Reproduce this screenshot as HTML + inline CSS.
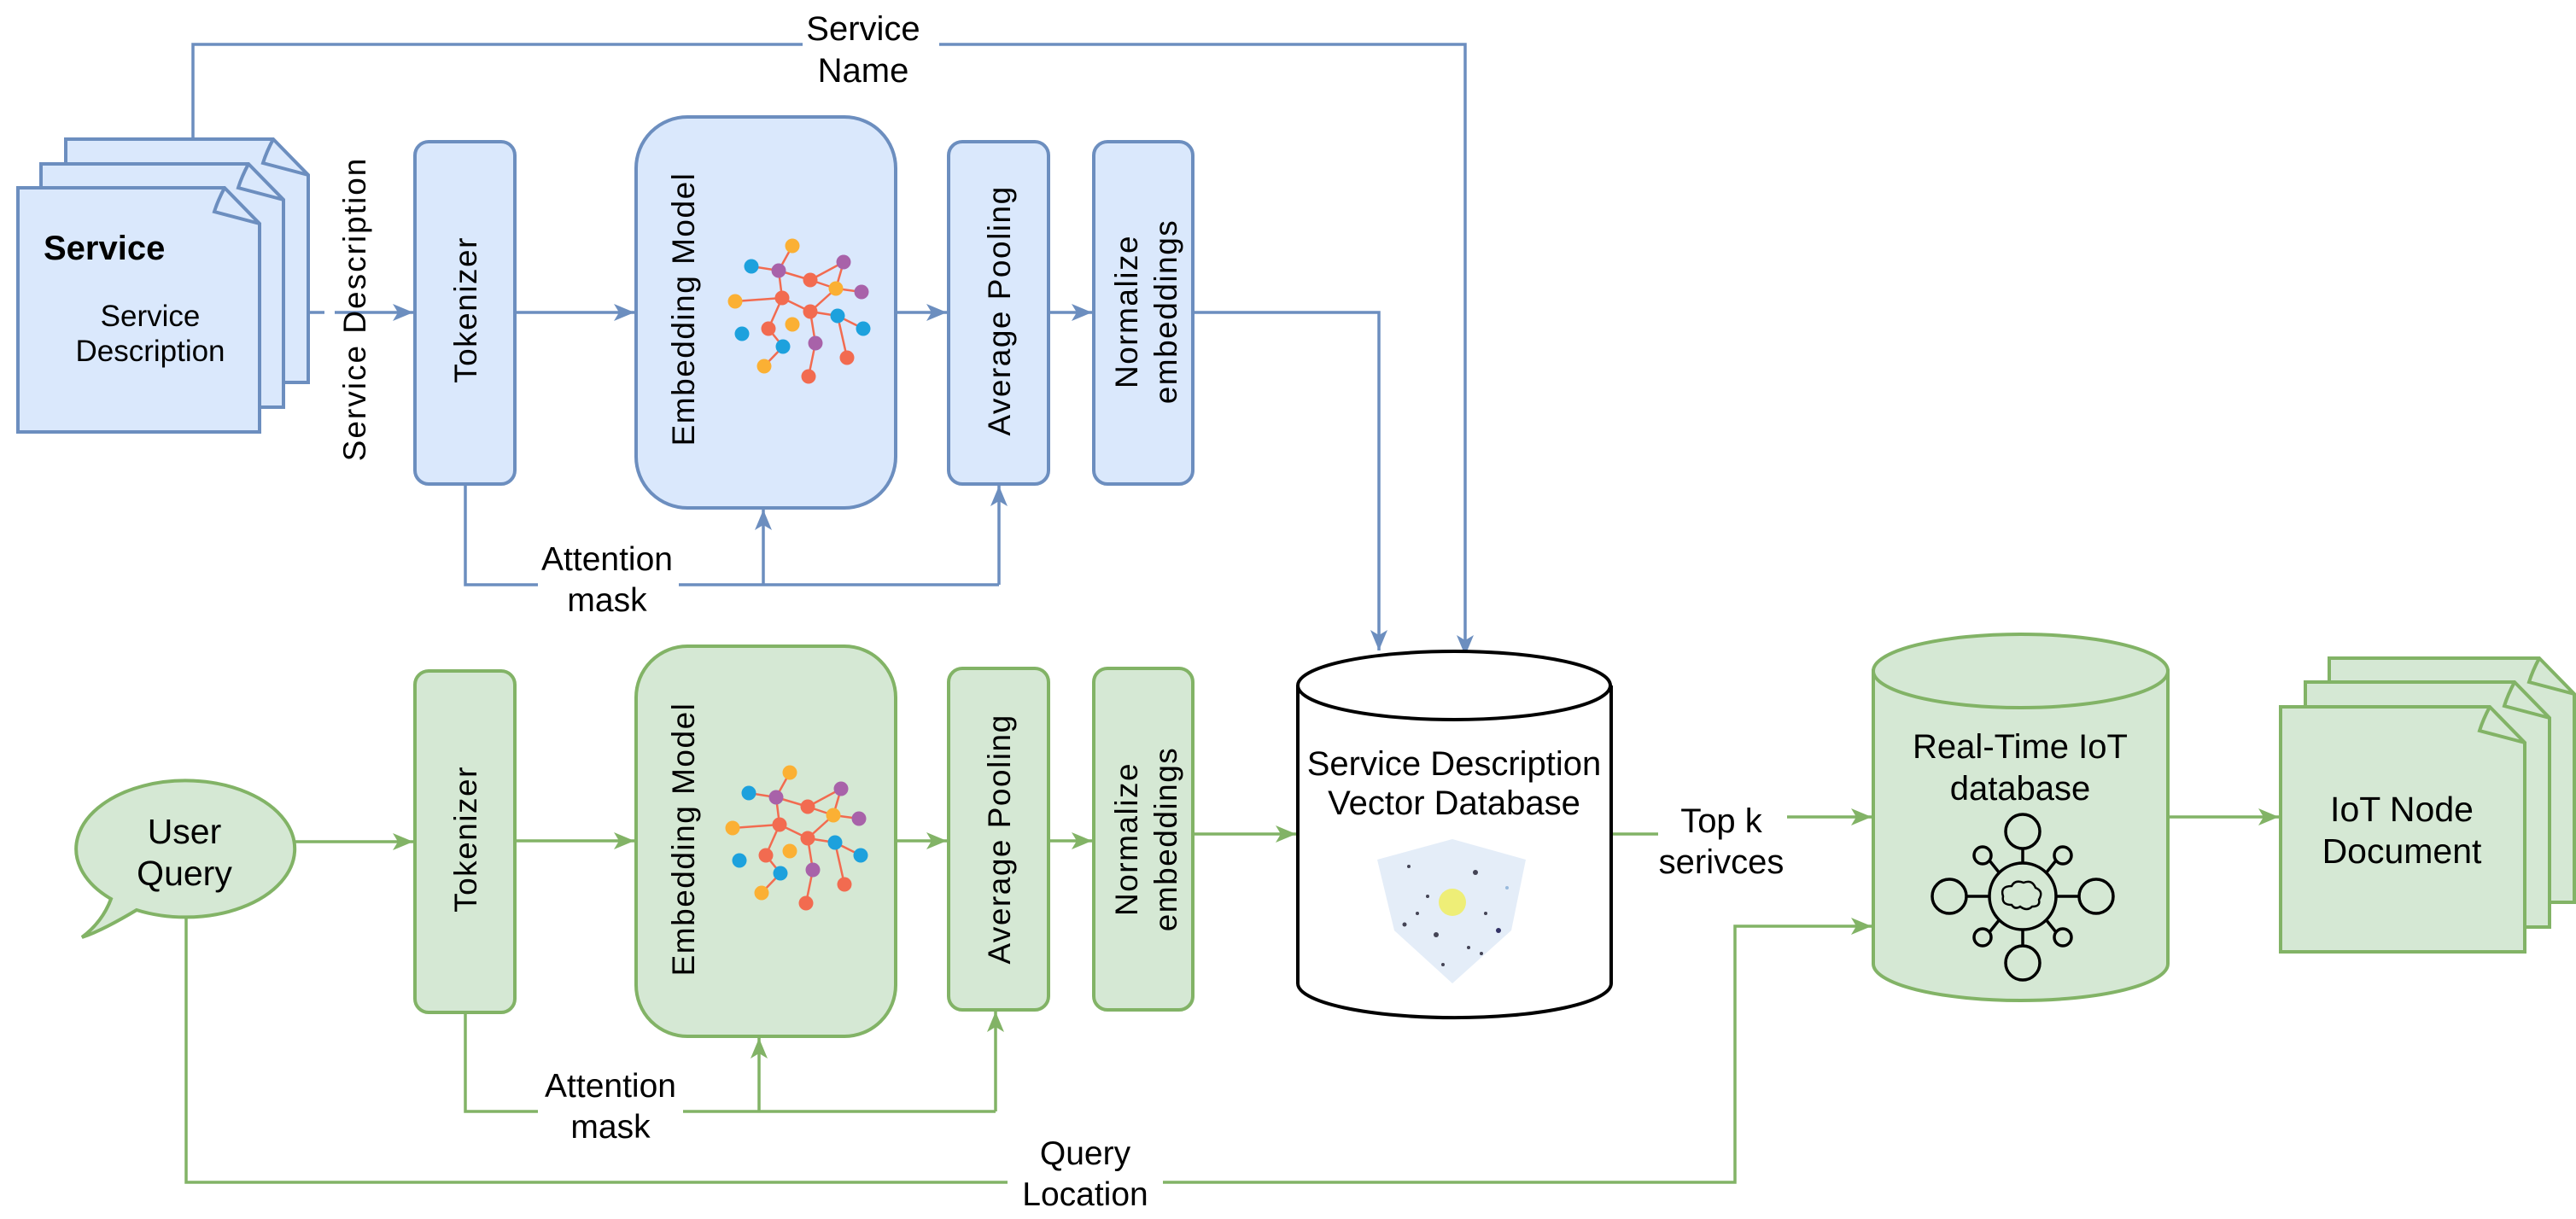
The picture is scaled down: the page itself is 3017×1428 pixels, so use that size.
<!DOCTYPE html>
<html><head><meta charset="utf-8"><style>html,body{margin:0;padding:0;background:#fff}svg{display:block}text{font-family:"Liberation Sans",sans-serif;fill:#000}</style></head><body>
<svg width="3017" height="1428" viewBox="0 0 3017 1428" xmlns="http://www.w3.org/2000/svg">
<defs>
<marker id="ab" markerUnits="userSpaceOnUse" markerWidth="26" markerHeight="22" refX="24" refY="10" orient="auto"><path d="M0,0 L24,10 L0,20 L6,10 Z" fill="#6c8ebf"/></marker>
<marker id="ag" markerUnits="userSpaceOnUse" markerWidth="26" markerHeight="22" refX="24" refY="10" orient="auto"><path d="M0,0 L24,10 L0,20 L6,10 Z" fill="#82b366"/></marker>
<g id="net">
<g stroke="#f26b50" stroke-width="2.5" fill="none">
<path d="M880,312 L912,317 L928,288 M912,317 L949,328 L988,307 L979,338 L1009,342 M949,328 L979,338 M912,317 L916,349 L861,353 M916,349 L949,365 L979,338 M949,365 L981,370 L1011,385 M981,370 L992,419 M916,349 L900,385 L917,406 L895,429 M949,365 L955,402 L947,441"/>
</g>
<g>
<circle cx="928" cy="288" r="8.5" fill="#fbb034"/><circle cx="880" cy="312" r="8.5" fill="#1da1dd"/><circle cx="912" cy="317" r="8.5" fill="#a862a9"/><circle cx="988" cy="307" r="8.5" fill="#a862a9"/><circle cx="949" cy="328" r="8.5" fill="#f26b50"/><circle cx="979" cy="338" r="8.5" fill="#fbb034"/><circle cx="1009" cy="342" r="8.5" fill="#a862a9"/><circle cx="861" cy="353" r="8.5" fill="#fbb034"/><circle cx="916" cy="349" r="8.5" fill="#f26b50"/><circle cx="949" cy="365" r="8.5" fill="#f26b50"/><circle cx="981" cy="370" r="8.5" fill="#1da1dd"/><circle cx="1011" cy="385" r="8.5" fill="#1da1dd"/><circle cx="928" cy="380" r="8.5" fill="#fbb034"/><circle cx="900" cy="385" r="8.5" fill="#f26b50"/><circle cx="869" cy="391" r="8.5" fill="#1da1dd"/><circle cx="917" cy="406" r="8.5" fill="#1da1dd"/><circle cx="955" cy="402" r="8.5" fill="#a862a9"/><circle cx="992" cy="419" r="8.5" fill="#f26b50"/><circle cx="895" cy="429" r="8.5" fill="#fbb034"/><circle cx="947" cy="441" r="8.5" fill="#f26b50"/>
</g>
</g>
</defs>

<!-- ===== BLUE ROW ===== -->
<g fill="none" stroke="#6c8ebf" stroke-width="3.5">
<path d="M226,163 L226,52 L940,52 M1100,52 L1716,52 L1716,768" marker-end="url(#ab)"/>
<path d="M361,366 L380,366 M392,366 L484,366" marker-end="url(#ab)"/>
<path d="M603,366 L743,366" marker-end="url(#ab)"/>
<path d="M1049,366 L1109,366" marker-end="url(#ab)"/>
<path d="M1228,366 L1279,366" marker-end="url(#ab)"/>
<path d="M1397,366 L1615,366 L1615,762" marker-end="url(#ab)"/>
<path d="M545,567 L545,685 L630,685 M795,685 L1170,685"/>
<path d="M894,685 L894,597" marker-end="url(#ab)"/>
<path d="M1170,685 L1170,569" marker-end="url(#ab)"/>
</g>
<rect x="940" y="15" width="160" height="80" fill="#fff"/>
<text x="1011" y="47" font-size="40" text-anchor="middle">Service</text>
<text x="1011" y="96" font-size="40" text-anchor="middle">Name</text>

<!-- doc stack blue -->
<g fill="#dae8fc" stroke="#6c8ebf" stroke-width="4">
<path d="M77,163 L320,163 L361,205 L361,448 L77,448 Z"/><path d="M320,163 Q312,178 308,191 L361,205" fill="none"/>
<path d="M48,192 L291,192 L332,234 L332,477 L48,477 Z"/><path d="M291,192 Q283,207 279,220 L332,234" fill="none"/>
<path d="M21,220 L263,220 L304,262 L304,506 L21,506 Z"/><path d="M263,220 Q255,235 251,248 L304,262" fill="none"/>
</g>
<text x="51" y="304" font-size="40" font-weight="bold">Service</text>
<text x="176" y="382" font-size="35" text-anchor="middle">Service</text>
<text x="176" y="423" font-size="35" text-anchor="middle">Description</text>
<text transform="translate(428,362) rotate(-90)" font-size="37" text-anchor="middle" letter-spacing="2">Service Description</text>

<g fill="#dae8fc" stroke="#6c8ebf" stroke-width="4">
<rect x="486" y="166" width="117" height="401" rx="16"/>
<rect x="745" y="137" width="304" height="458" rx="60"/>
<rect x="1111" y="166" width="117" height="401" rx="16"/>
<rect x="1281" y="166" width="116" height="401" rx="16"/>
</g>
<g font-size="37" text-anchor="middle" letter-spacing="1.5">
<text transform="translate(558,363) rotate(-90)">Tokenizer</text>
<text transform="translate(813,362) rotate(-90)">Embedding Model</text>
<text transform="translate(1183,364) rotate(-90)">Average Pooling</text>
<text transform="translate(1332,365) rotate(-90)">Normalize</text>
<text transform="translate(1378,365) rotate(-90)">embeddings</text>
</g>
<use href="#net"/>
<rect x="630" y="645" width="165" height="80" fill="#fff"/>
<text x="711" y="668" font-size="39" text-anchor="middle">Attention</text>
<text x="711" y="716" font-size="39" text-anchor="middle">mask</text>

<!-- ===== GREEN ROW ===== -->
<g fill="none" stroke="#82b366" stroke-width="3.5">
<path d="M345,986 L484,986" marker-end="url(#ag)"/>
<path d="M603,985 L743,985" marker-end="url(#ag)"/>
<path d="M1049,985 L1109,985" marker-end="url(#ag)"/>
<path d="M1228,985 L1279,985" marker-end="url(#ag)"/>
<path d="M1397,977 L1518,977" marker-end="url(#ag)"/>
<path d="M545,1186 L545,1302 L630,1302 M800,1302 L1166,1302"/>
<path d="M889,1302 L889,1216" marker-end="url(#ag)"/>
<path d="M1166,1302 L1166,1185" marker-end="url(#ag)"/>
<path d="M218,1066 L218,1385 L1180,1385 M1362,1385 L2032,1385 L2032,1085 L2192,1085" marker-end="url(#ag)"/>
<path d="M2093,957 L2192,957" marker-end="url(#ag)"/>
<path d="M2539,957 L2669,957" marker-end="url(#ag)"/>
</g>
<path d="M1887,977 L1942,977" stroke="#82b366" stroke-width="3.5"/>
<!-- bubble -->
<path d="M130,1053 A128,80 0 1 1 160,1066 Q120,1090 96,1098 Q120,1080 130,1053 Z" fill="#d5e8d4" stroke="#82b366" stroke-width="4"/>
<text x="216" y="988" font-size="41" text-anchor="middle">User</text>
<text x="216" y="1037" font-size="41" text-anchor="middle">Query</text>

<g fill="#d5e8d4" stroke="#82b366" stroke-width="4">
<rect x="486" y="786" width="117" height="400" rx="16"/>
<rect x="745" y="757" width="304" height="457" rx="60"/>
<rect x="1111" y="783" width="117" height="400" rx="16"/>
<rect x="1281" y="783" width="116" height="400" rx="16"/>
</g>
<g font-size="37" text-anchor="middle" letter-spacing="1.5">
<text transform="translate(558,983) rotate(-90)">Tokenizer</text>
<text transform="translate(813,983) rotate(-90)">Embedding Model</text>
<text transform="translate(1183,983) rotate(-90)">Average Pooling</text>
<text transform="translate(1332,983) rotate(-90)">Normalize</text>
<text transform="translate(1378,983) rotate(-90)">embeddings</text>
</g>
<use href="#net" transform="translate(-3,617)"/>
<rect x="630" y="1262" width="170" height="80" fill="#fff"/>
<text x="715" y="1285" font-size="39" text-anchor="middle">Attention</text>
<text x="715" y="1333" font-size="39" text-anchor="middle">mask</text>
<rect x="1180" y="1335" width="182" height="90" fill="#fff"/>
<text x="1271" y="1364" font-size="39" text-anchor="middle">Query</text>
<text x="1271" y="1412" font-size="39" text-anchor="middle">Location</text>

<!-- Vector DB -->
<path d="M1520,803 L1520,1152 A183,40 0 0 0 1887,1152 L1887,803" fill="#fff" stroke="#000" stroke-width="4"/>
<ellipse cx="1703" cy="803" rx="183" ry="40" fill="#fff" stroke="#000" stroke-width="4"/>
<text x="1703" y="908" font-size="40" text-anchor="middle">Service Description</text>
<text x="1703" y="954" font-size="40" text-anchor="middle">Vector Database</text>
<polygon points="1613,1007 1701,983 1787,1007 1770,1090 1701,1152 1633,1090" fill="#e4edf8"/>
<circle cx="1701" cy="1057" r="16" fill="#eeee77"/>
<g fill="#445">
<circle cx="1650" cy="1015" r="2"/><circle cx="1728" cy="1022" r="3"/><circle cx="1672" cy="1050" r="2"/><circle cx="1740" cy="1070" r="2"/><circle cx="1645" cy="1083" r="2.5"/><circle cx="1682" cy="1095" r="3"/><circle cx="1755" cy="1090" r="3" fill="#336"/><circle cx="1720" cy="1110" r="2"/><circle cx="1690" cy="1130" r="2"/><circle cx="1735" cy="1117" r="2"/><circle cx="1660" cy="1070" r="2"/><circle cx="1765" cy="1040" r="2" fill="#9bd"/>
</g>
<text x="2016" y="975" font-size="40" text-anchor="middle">Top k</text>
<text x="2016" y="1023" font-size="40" text-anchor="middle">serivces</text>

<!-- IoT DB -->
<path d="M2194,786 L2539,786 L2539,1129 A172.5,43 0 0 1 2194,1129 Z" fill="#d5e8d4" stroke="#82b366" stroke-width="4"/>
<ellipse cx="2366.5" cy="786" rx="172.5" ry="43" fill="#d5e8d4" stroke="#82b366" stroke-width="4"/>
<text x="2366" y="888" font-size="40" text-anchor="middle">Real-Time IoT</text>
<text x="2366" y="937" font-size="40" text-anchor="middle">database</text>
<g fill="none" stroke="#000" stroke-width="3.5">
<circle cx="2369" cy="1050" r="39"/>
<path d="M2369,1011 L2369,994 M2369,1089 L2369,1108 M2330,1050 L2303,1050 M2408,1050 L2434,1050 M2342,1023 L2330,1008 M2396,1023 L2408,1008 M2342,1077 L2330,1092 M2396,1077 L2408,1092"/>
<circle cx="2369" cy="974" r="20"/><circle cx="2369" cy="1128" r="20"/><circle cx="2283" cy="1050" r="20"/><circle cx="2455" cy="1050" r="20"/>
<circle cx="2322" cy="1002" r="10"/><circle cx="2416" cy="1002" r="10"/><circle cx="2322" cy="1098" r="10"/><circle cx="2416" cy="1098" r="10"/>
<path d="M2356,1060 q-12,0 -10,-10 q-4,-12 10,-12 q4,-8 14,-4 q10,-4 14,6 q10,4 4,14 q2,8 -8,8 q-6,6 -14,0 q-6,4 -10,-2 z" stroke-width="2.5"/>
</g>

<!-- IoT doc stack -->
<g fill="#d5e8d4" stroke="#82b366" stroke-width="4">
<path d="M2728,771 L2974,771 L3015,813 L3015,1057 L2728,1057 Z"/><path d="M2974,771 Q2966,786 2962,799 L3015,813" fill="none"/>
<path d="M2700,799 L2945,799 L2986,841 L2986,1086 L2700,1086 Z"/><path d="M2945,799 Q2937,814 2933,827 L2986,841" fill="none"/>
<path d="M2671,828 L2916,828 L2957,870 L2957,1115 L2671,1115 Z"/><path d="M2916,828 Q2908,843 2904,856 L2957,870" fill="none"/>
</g>
<text x="2813" y="962" font-size="41" text-anchor="middle">IoT Node</text>
<text x="2813" y="1011" font-size="41" text-anchor="middle">Document</text>
</svg>
</body></html>
